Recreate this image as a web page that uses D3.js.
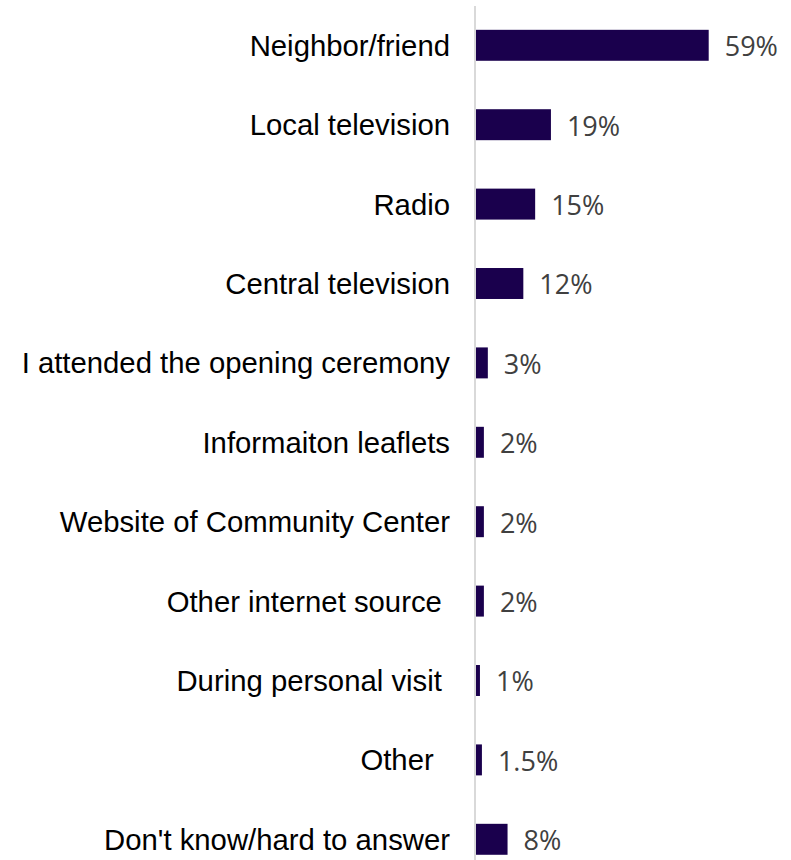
<!DOCTYPE html>
<html>
<head>
<meta charset="utf-8">
<script src="https://cdn.jsdelivr.net/npm/d3@7"></script>
<style>
  html, body { margin: 0; padding: 0; background: #ffffff; }
  svg { display: block; }
  .cat { font-family: "Liberation Sans", Arial, sans-serif; font-size: 29.3px; fill: #000000; white-space: pre; }
  .val { font-family: "Open Sans", sans-serif; font-size: 27px; fill: #404040; }
</style>
</head>
<body>
<script>
// Sources of information (share of respondents, %)
const categories = [
  "Neighbor/friend",
  "Local television",
  "Radio",
  "Central television",
  "I attended the opening ceremony",
  "Informaiton leaflets",
  "Website of Community Center",
  "Other internet source ",
  "During personal visit ",
  "Other  ",
  "Don't know/hard to answer"
];
const values = [59, 19, 15, 12, 3, 2, 2, 2, 1, 1.5, 8];
const valueLabels = ["59%", "19%", "15%", "12%", "3%", "2%", "2%", "2%", "1%", "1.5%", "8%"];

const width = 791, height = 860;
const axisX = 475;

const svg = d3.select("body").append("svg")
  .attr("width", width)
  .attr("height", height);

const x = d3.scaleLinear().domain([0, 59]).range([axisX + 1, 708.7]);

const y = d3.scaleBand()
  .domain(categories)
  .range([5.6, 5.6 + 79.4 * categories.length])
  .paddingInner(0.61)
  .paddingOuter(0.305);

const rows = categories.map((c, i) => ({ cat: c, value: values[i], label: valueLabels[i] }));

// vertical baseline axis
svg.append("line")
  .attr("x1", axisX).attr("x2", axisX)
  .attr("y1", 6).attr("y2", height)
  .attr("stroke", "#d9d9d9")
  .attr("stroke-width", 2);

// bars
svg.selectAll("rect.bar")
  .data(rows)
  .enter().append("rect")
  .attr("class", "bar")
  .attr("x", x(0))
  .attr("y", d => y(d.cat))
  .attr("width", d => x(d.value) - x(0))
  .attr("height", y.bandwidth())
  .attr("fill", "#1a004d");

// category labels
svg.selectAll("text.cat")
  .data(rows)
  .enter().append("text")
  .attr("class", "cat")
  .attr("x", 450)
  .attr("y", d => y(d.cat) + y.bandwidth() / 2)
  .attr("dy", "0.36em")
  .attr("text-anchor", "end")
  .text(d => d.cat);

// value labels
svg.selectAll("text.val")
  .data(rows)
  .enter().append("text")
  .attr("class", "val")
  .attr("x", d => x(d.value) + 16)
  .attr("y", d => y(d.cat) + y.bandwidth() / 2)
  .attr("dy", "0.4em")
  .text(d => d.label);
</script>
</body>
</html>
